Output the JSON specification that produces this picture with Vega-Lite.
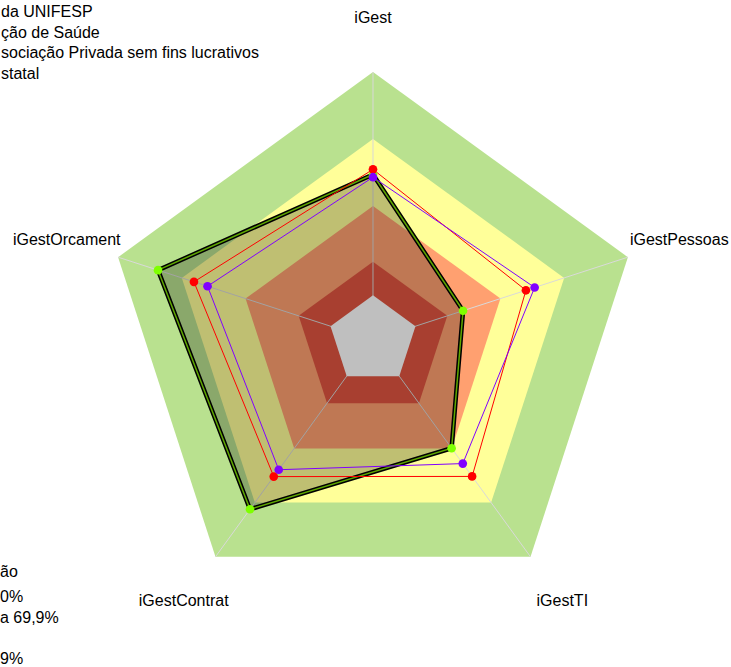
{
  "$schema": "https://vega.github.io/schema/vega-lite/v6.json",
  "width": 731,
  "height": 667,
  "padding": 0,
  "autosize": {"type": "none"},
  "config": {"view": {"stroke": null}, "font": "Liberation Sans"},
  "data": {
    "values": [
      {"tipo": "faixa", "grupo": "Aprimorado", "axis": "iGest", "value": 100},
      {"tipo": "faixa", "grupo": "Aprimorado", "axis": "iGestPessoas", "value": 100},
      {"tipo": "faixa", "grupo": "Aprimorado", "axis": "iGestTI", "value": 100},
      {"tipo": "faixa", "grupo": "Aprimorado", "axis": "iGestContrat", "value": 100},
      {"tipo": "faixa", "grupo": "Aprimorado", "axis": "iGestOrcament", "value": 100},
      {"tipo": "faixa", "grupo": "Intermediário", "axis": "iGest", "value": 70},
      {"tipo": "faixa", "grupo": "Intermediário", "axis": "iGestPessoas", "value": 70},
      {"tipo": "faixa", "grupo": "Intermediário", "axis": "iGestTI", "value": 70},
      {"tipo": "faixa", "grupo": "Intermediário", "axis": "iGestContrat", "value": 70},
      {"tipo": "faixa", "grupo": "Intermediário", "axis": "iGestOrcament", "value": 70},
      {"tipo": "faixa", "grupo": "Iniciando", "axis": "iGest", "value": 40},
      {"tipo": "faixa", "grupo": "Iniciando", "axis": "iGestPessoas", "value": 40},
      {"tipo": "faixa", "grupo": "Iniciando", "axis": "iGestTI", "value": 40},
      {"tipo": "faixa", "grupo": "Iniciando", "axis": "iGestContrat", "value": 40},
      {"tipo": "faixa", "grupo": "Iniciando", "axis": "iGestOrcament", "value": 40},
      {"tipo": "faixa", "grupo": "Inexpressivo", "axis": "iGest", "value": 15},
      {"tipo": "faixa", "grupo": "Inexpressivo", "axis": "iGestPessoas", "value": 15},
      {"tipo": "faixa", "grupo": "Inexpressivo", "axis": "iGestTI", "value": 15},
      {"tipo": "faixa", "grupo": "Inexpressivo", "axis": "iGestContrat", "value": 15},
      {"tipo": "faixa", "grupo": "Inexpressivo", "axis": "iGestOrcament", "value": 15},
      {"tipo": "faixa", "grupo": "Centro", "axis": "iGest", "value": 0},
      {"tipo": "faixa", "grupo": "Centro", "axis": "iGestPessoas", "value": 0},
      {"tipo": "faixa", "grupo": "Centro", "axis": "iGestTI", "value": 0},
      {"tipo": "faixa", "grupo": "Centro", "axis": "iGestContrat", "value": 0},
      {"tipo": "faixa", "grupo": "Centro", "axis": "iGestOrcament", "value": 0},
      {"tipo": "serie", "grupo": "da UNIFESP", "axis": "iGest", "value": 54.1},
      {"tipo": "serie", "grupo": "da UNIFESP", "axis": "iGestPessoas", "value": 22.4},
      {"tipo": "serie", "grupo": "da UNIFESP", "axis": "iGestTI", "value": 39.9},
      {"tipo": "serie", "grupo": "da UNIFESP", "axis": "iGestContrat", "value": 73.7},
      {"tipo": "serie", "grupo": "da UNIFESP", "axis": "iGestOrcament", "value": 81.2},
      {"tipo": "serie", "grupo": "ção de Saúde", "axis": "iGest", "value": 56.4},
      {"tipo": "serie", "grupo": "ção de Saúde", "axis": "iGestPessoas", "value": 52.0},
      {"tipo": "serie", "grupo": "ção de Saúde", "axis": "iGestTI", "value": 55.5},
      {"tipo": "serie", "grupo": "ção de Saúde", "axis": "iGestContrat", "value": 55.6},
      {"tipo": "serie", "grupo": "ção de Saúde", "axis": "iGestOrcament", "value": 64.3},
      {"tipo": "serie", "grupo": "sociação Privada sem fins lucrativos", "axis": "iGest", "value": 52.9},
      {"tipo": "serie", "grupo": "sociação Privada sem fins lucrativos", "axis": "iGestPessoas", "value": 56.1},
      {"tipo": "serie", "grupo": "sociação Privada sem fins lucrativos", "axis": "iGestTI", "value": 48.4},
      {"tipo": "serie", "grupo": "sociação Privada sem fins lucrativos", "axis": "iGestContrat", "value": 51.8},
      {"tipo": "serie", "grupo": "sociação Privada sem fins lucrativos", "axis": "iGestOrcament", "value": 57.9}
    ]
  },
  "transform": [
    {"calculate": "indexof(['iGest','iGestPessoas','iGestTI','iGestContrat','iGestOrcament'], datum.axis)", "as": "idx"},
    {"calculate": "PI/2 - datum.idx*2*PI/5", "as": "ang"},
    {"calculate": "(datum.value+20)*cos(datum.ang)", "as": "px"},
    {"calculate": "(datum.value+20)*sin(datum.ang)", "as": "py"}
  ],
  "encoding": {
    "x": {"field": "px", "type": "quantitative", "scale": {"domain": [-167.01, 160.3], "nice": false, "zero": false}, "axis": null},
    "y": {"field": "py", "type": "quantitative", "scale": {"domain": [-146.42, 152.24], "nice": false, "zero": false}, "axis": null}
  },
  "layer": [
    {
      "transform": [{"filter": "datum.tipo == 'faixa' && datum.grupo != 'Centro'"}],
      "mark": {"type": "line", "interpolate": "linear-closed", "stroke": "transparent", "strokeWidth": 0, "fillOpacity": 1},
      "encoding": {
        "order": {"field": "idx", "type": "quantitative"},
        "fill": {
          "field": "grupo", "type": "nominal",
          "scale": {"domain": ["Aprimorado", "Intermediário", "Iniciando", "Inexpressivo"], "range": ["#B9E18F", "#FFFF99", "#FFA070", "#E05540"]},
          "legend": {
            "orient": "none", "legendX": 0, "legendY": 564, "padding": 0,
            "title": "ão", "titleFontSize": 16, "titleFontWeight": "normal", "titleFont": "Liberation Sans", "titleColor": "black", "titlePadding": 9,
            "labelExpr": "datum.label == 'Aprimorado' ? '0%' : datum.label == 'Intermediário' ? 'a 69,9%' : datum.label == 'Inexpressivo' ? '9%' : ''",
            "labelFontSize": 16, "labelFont": "Liberation Sans", "labelColor": "black", "labelOffset": -16, "labelLimit": 0,
            "symbolSize": 0, "symbolOpacity": 0, "symbolStrokeWidth": 0, "rowPadding": 4.5
          }
        }
      }
    },
    {
      "transform": [{"filter": "datum.grupo == 'Aprimorado'"}],
      "mark": {"type": "rule", "color": "#D9D9D9", "strokeWidth": 1},
      "encoding": {
        "x": {"datum": 0, "type": "quantitative"},
        "y": {"datum": 0, "type": "quantitative"},
        "x2": {"field": "px"},
        "y2": {"field": "py"}
      }
    },
    {
      "transform": [{"filter": "datum.grupo == 'Centro'"}],
      "mark": {"type": "line", "interpolate": "linear-closed", "fill": "#FFFFFF", "stroke": "transparent", "strokeWidth": 0},
      "encoding": {"order": {"field": "idx", "type": "quantitative"}}
    },
    {
      "transform": [{"filter": "datum.grupo == 'da UNIFESP'"}],
      "mark": {"type": "line", "interpolate": "linear-closed", "fill": "#000000", "fillOpacity": 0.25, "stroke": "transparent", "strokeWidth": 0},
      "encoding": {"order": {"field": "idx", "type": "quantitative"}}
    },
    {
      "transform": [{"filter": "datum.grupo == 'da UNIFESP'"}],
      "mark": {"type": "line", "interpolate": "linear-closed", "stroke": "#000000", "strokeWidth": 4.5},
      "encoding": {"order": {"field": "idx", "type": "quantitative"}}
    },
    {
      "transform": [{"filter": "datum.grupo == 'da UNIFESP'"}],
      "mark": {"type": "line", "interpolate": "linear-closed", "stroke": "#5FA800", "strokeWidth": 1.5},
      "encoding": {"order": {"field": "idx", "type": "quantitative"}}
    },
    {
      "transform": [{"filter": "datum.grupo == 'ção de Saúde'"}],
      "mark": {"type": "line", "interpolate": "linear-closed", "stroke": "#FF0000", "strokeWidth": 1},
      "encoding": {"order": {"field": "idx", "type": "quantitative"}}
    },
    {
      "transform": [{"filter": "datum.grupo == 'sociação Privada sem fins lucrativos'"}],
      "mark": {"type": "line", "interpolate": "linear-closed", "stroke": "#8000FF", "strokeWidth": 1},
      "encoding": {"order": {"field": "idx", "type": "quantitative"}}
    },
    {
      "transform": [{"filter": "datum.tipo == 'serie'"}],
      "mark": {"type": "point", "filled": true, "shape": "circle", "size": 75, "opacity": 1},
      "encoding": {
        "color": {
          "field": "grupo", "type": "nominal",
          "scale": {"domain": ["da UNIFESP", "ção de Saúde", "sociação Privada sem fins lucrativos", "statal"], "range": ["#7FFF00", "#FF0000", "#8000FF", "#00B050"]},
          "legend": {
            "orient": "none", "legendX": 0, "legendY": 4, "padding": 0, "title": null,
            "labelFontSize": 16, "labelFont": "Liberation Sans", "labelColor": "black", "labelOffset": -15, "labelLimit": 0,
            "symbolSize": 0, "symbolOpacity": 0, "symbolStrokeWidth": 0, "rowPadding": 4.5
          }
        }
      }
    },
    {
      "transform": [
        {"filter": "datum.grupo == 'Aprimorado'"},
        {"calculate": "144.2*cos(datum.ang)", "as": "lx"},
        {"calculate": "144.2*sin(datum.ang)", "as": "ly"}
      ],
      "mark": {"type": "text", "fontSize": 16, "font": "Liberation Sans", "color": "#000000", "align": "center", "baseline": "middle"},
      "encoding": {
        "x": {"field": "lx", "type": "quantitative"},
        "y": {"field": "ly", "type": "quantitative"},
        "text": {"field": "axis"}
      }
    }
  ]
}
